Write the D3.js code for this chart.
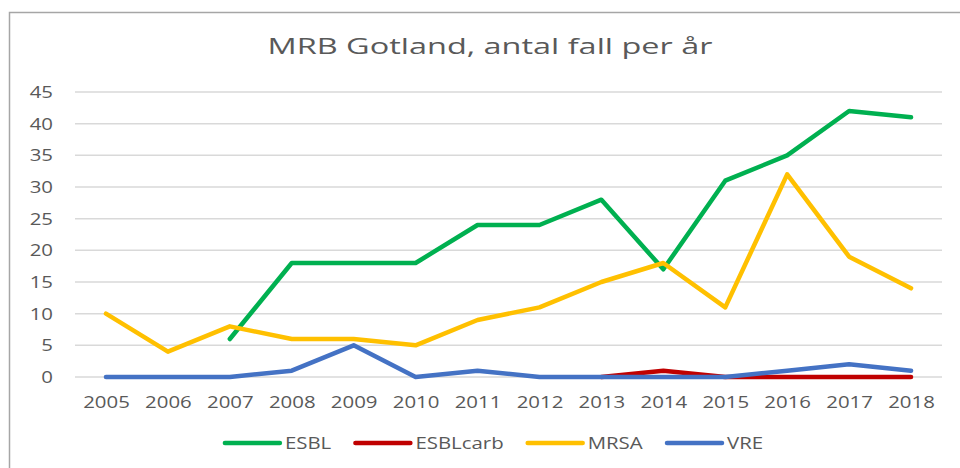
<!DOCTYPE html>
<html>
<head>
<meta charset="utf-8">
<script src="https://cdn.jsdelivr.net/npm/d3@7"></script>
<style>
  body { margin: 0; background: #fff; }
  text { font-family: "Open Sans", sans-serif; fill: #595959; }
</style>
</head>
<body>
<script>
// Data
const years = ["2005","2006","2007","2008","2009","2010","2011","2012","2013","2014","2015","2016","2017","2018"];
const esbl     = [null, null, 6, 18, 18, 18, 24, 24, 28, 17, 31, 35, 42, 41];
const esblcarb = [null, null, null, null, null, null, null, null, 0, 1, 0, 0, 0, 0];
const mrsa     = [10, 4, 8, 6, 6, 5, 9, 11, 15, 18, 11, 32, 19, 14];
const vre      = [0, 0, 0, 1, 5, 0, 1, 0, 0, 0, 0, 1, 2, 1];
const seriesNames = ["ESBL", "ESBLcarb", "MRSA", "VRE"];
const yTicks = [0, 5, 10, 15, 20, 25, 30, 35, 40, 45];

const series = [
  { name: seriesNames[0], values: esbl,     color: "#00b050" },
  { name: seriesNames[1], values: esblcarb, color: "#c00000" },
  { name: seriesNames[2], values: mrsa,     color: "#ffc000" },
  { name: seriesNames[3], values: vre,      color: "#4472c4" }
];

let width = 960, height = 468;
let margin = { top: 92, bottom: 91, left: 75, right: 18 };
const stretch = 1.2; // text in the original is widened

let svg = d3.select('body')
    .append('svg')
    .attr('width', width)
    .attr('height', height);

// chart frame (runs off the right and bottom edges)
svg.append('rect')
    .attr('x', 9.5)
    .attr('y', 12.5)
    .attr('width', 1000)
    .attr('height', 500)
    .attr('fill', 'none')
    .attr('stroke', '#a6a6a6')
    .attr('stroke-width', 1.5);

// title
svg.append('text')
    .attr('x', 490)
    .attr('y', 54)
    .attr('text-anchor', 'middle')
    .attr('textLength', 445)
    .attr('lengthAdjust', 'spacingAndGlyphs')
    .style('font-size', '21px')
    .text('MRB Gotland, antal fall per år');

// scales
let xScale = d3.scalePoint()
    .domain(years)
    .range([margin.left, width - margin.right])
    .padding(0.5);

let yScale = d3.scaleLinear()
    .domain([0, 45])
    .range([height - margin.bottom, margin.top]);

// gridlines
svg.append('g')
    .selectAll('line')
    .data(yTicks)
    .enter()
    .append('line')
    .attr('x1', margin.left)
    .attr('x2', width - margin.right)
    .attr('y1', d => yScale(d))
    .attr('y2', d => yScale(d))
    .attr('stroke', '#d9d9d9')
    .attr('stroke-width', 1.5);

// y labels
let yAxis = svg.append('g')
    .attr('transform', `translate(${margin.left - 22}, 0)`)
    .call(d3.axisLeft(yScale).tickValues(yTicks).tickSize(0).tickPadding(0));
yAxis.select('.domain').remove();
yAxis.selectAll('text')
    .style('font-size', '17px')
    .style('font-family', '"Open Sans", sans-serif')
    .attr('fill', '#595959');

// x labels
let xAxis = svg.append('g')
    .attr('transform', `translate(0, ${height - margin.bottom})`)
    .call(d3.axisBottom(xScale).tickSize(0).tickPadding(19));
xAxis.select('.domain').remove();
xAxis.selectAll('text')
    .style('font-size', '17px')
    .style('font-family', '"Open Sans", sans-serif')
    .attr('fill', '#595959');

// lines
let line = d3.line()
    .defined(d => d.v !== null)
    .x(d => xScale(d.year))
    .y(d => yScale(d.v));

svg.append('g')
    .selectAll('path')
    .data(series)
    .enter()
    .append('path')
    .attr('d', s => line(s.values.map((v, i) => ({ year: years[i], v: v }))))
    .attr('fill', 'none')
    .attr('stroke', s => s.color)
    .attr('stroke-width', 4.5)
    .attr('stroke-linecap', 'round')
    .attr('stroke-linejoin', 'round');

// legend
let legend = svg.append('g');
let items = legend.selectAll('g')
    .data(series)
    .enter()
    .append('g');

items.append('line')
    .attr('x1', 0)
    .attr('x2', 55)
    .attr('stroke', s => s.color)
    .attr('stroke-width', 4.5)
    .attr('stroke-linecap', 'round');

items.append('text')
    .attr('x', 60)
    .attr('dy', '0.35em')
    .style('font-size', '17px')
    .text(s => s.name);

// widen all small text like the original
svg.selectAll('.tick text, g text').each(function() {
    let w = this.getComputedTextLength();
    d3.select(this)
        .attr('textLength', w * stretch)
        .attr('lengthAdjust', 'spacingAndGlyphs');
});

// place legend items in a row, centred
let offsets = [], x = 0;
items.each(function() {
    offsets.push(x);
    x += this.getBBox().width + 24;
});
let total = x - 24;
let startX = 494 - total / 2;
items.attr('transform', (d, i) => `translate(${startX + offsets[i]}, 443)`);
</script>
</body>
</html>
